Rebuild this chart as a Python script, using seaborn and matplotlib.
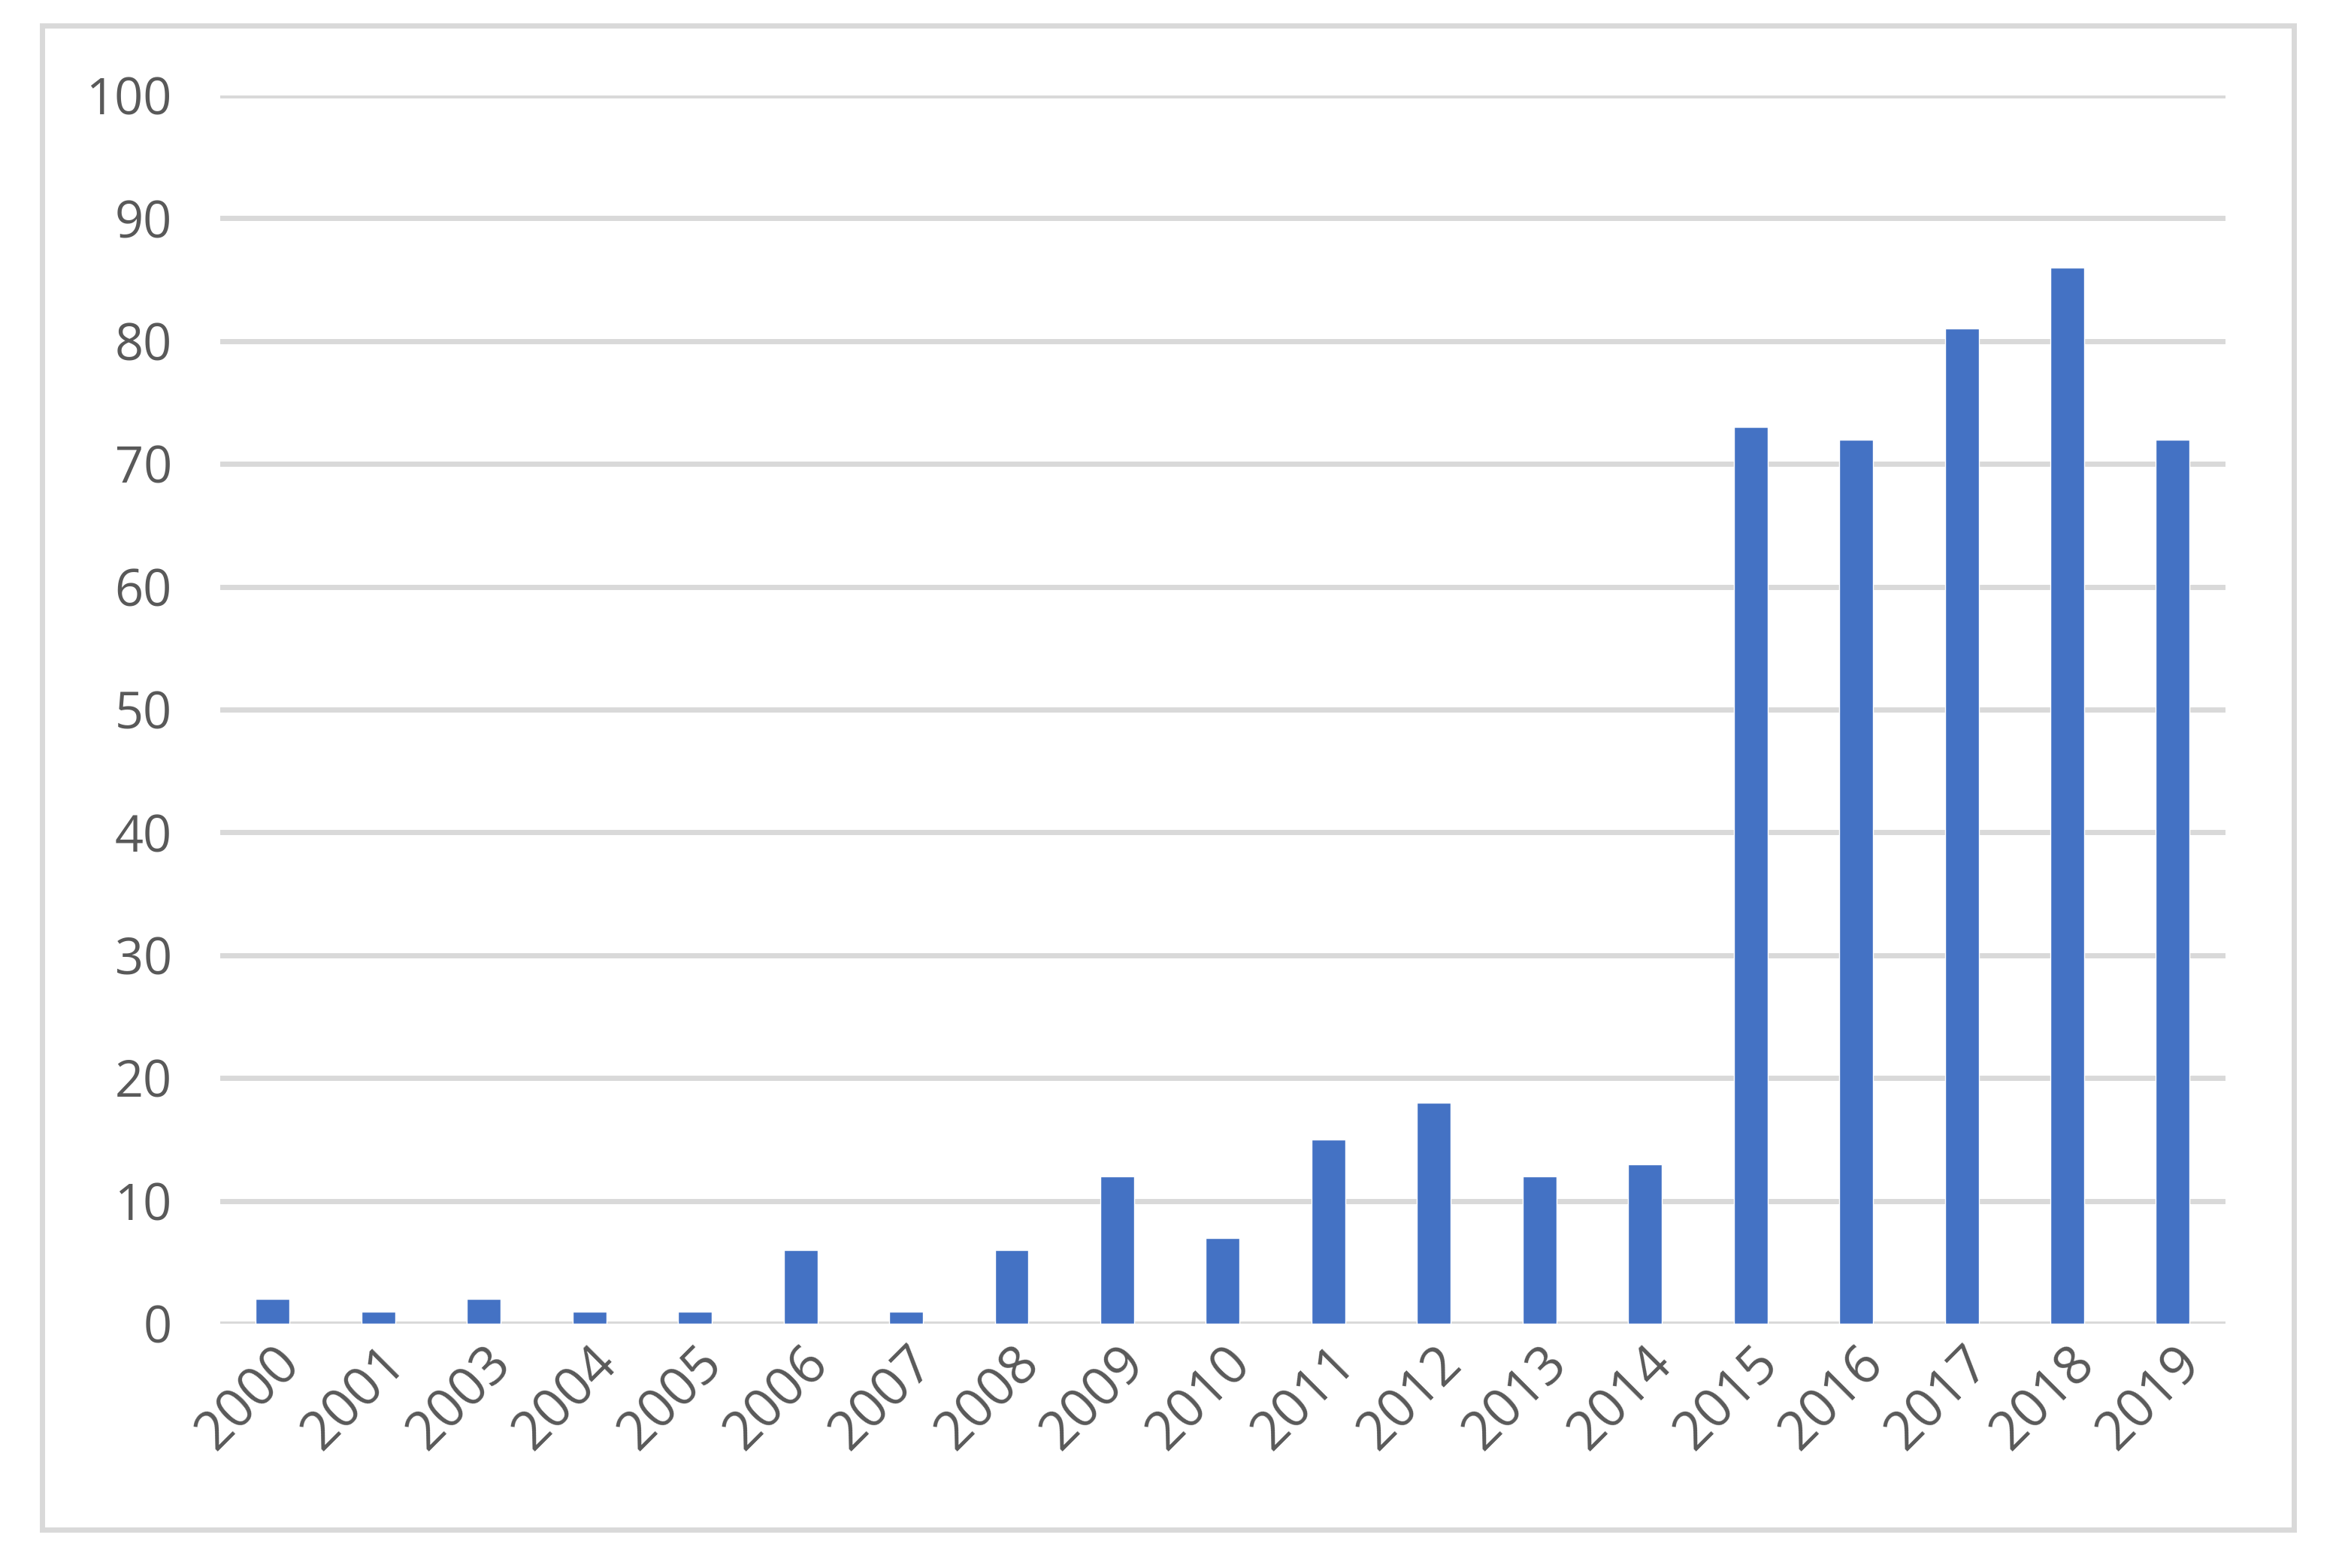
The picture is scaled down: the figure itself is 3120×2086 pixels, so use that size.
import matplotlib
matplotlib.use("Agg")
import matplotlib.pyplot as plt
import seaborn as sns
import pandas as pd
from matplotlib.patches import Rectangle

years = ["2000", "2001", "2003", "2004", "2005", "2006", "2007", "2008", "2009", "2010",
         "2011", "2012", "2013", "2014", "2015", "2016", "2017", "2018", "2019"]
counts = [2, 1, 2, 1, 1, 6, 1, 6, 12, 7, 15, 18, 12, 13, 73, 72, 81, 86, 72]
yticks = [0, 10, 20, 30, 40, 50, 60, 70, 80, 90, 100]

df = pd.DataFrame({"year": years, "count": counts})

sns.set_theme(style="white")
plt.rcParams["font.family"] = ["Open Sans", "DejaVu Sans"]

fig = plt.figure(figsize=(31.2, 20.86), dpi=100)
ax = fig.add_axes([0.0938, 0.1558, 0.8553, 0.7833])

sns.barplot(data=df, x="year", y="count", color="#4472C4", saturation=1,
            width=0.32, ax=ax, zorder=3)

ax.set_ylim(0, 100)
ax.set_xlim(-0.5, len(years) - 0.5)
ax.set_yticks(yticks)
ax.yaxis.grid(True, color="#D9D9D9", linewidth=5, zorder=0)
ax.set_axisbelow(True)
for s in ax.spines.values():
    s.set_visible(False)
ax.set_xlabel("")
ax.set_ylabel("")
ax.tick_params(axis="y", length=0, pad=46, labelsize=48, labelcolor="#595959")
ax.tick_params(axis="x", length=0, pad=12, labelsize=51, labelcolor="#595959")
plt.setp(ax.get_xticklabels(), rotation=45, ha="right", rotation_mode="anchor")

fig.patches.append(Rectangle((56 / 3120, 1 - 2035 / 2086), (3052 - 56) / 3120, (2035 - 34) / 2086,
                             transform=fig.transFigure, fill=False,
                             edgecolor="#D9D9D9", linewidth=5))

fig.savefig("out.png", dpi=100, facecolor="white")
